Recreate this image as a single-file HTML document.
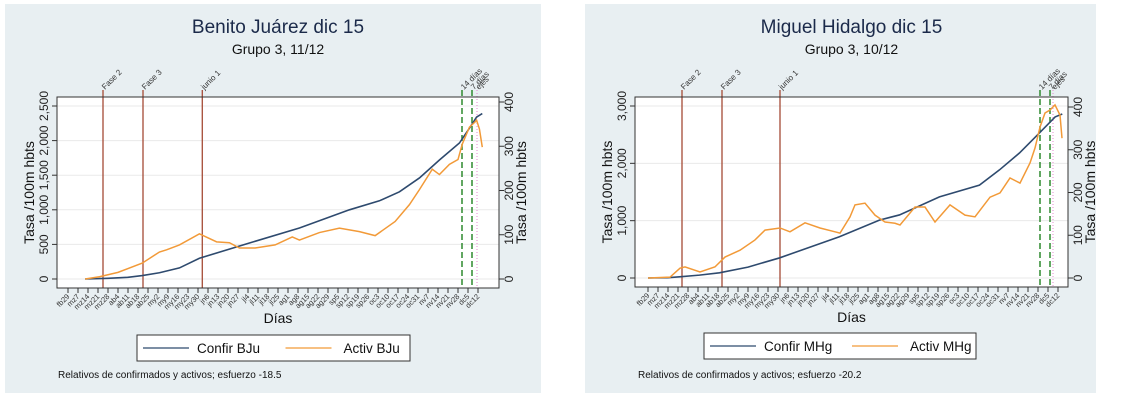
<!DOCTYPE html>
<html><head><meta charset="utf-8">
<style>
html,body{margin:0;padding:0;background:#fff;width:1126px;height:404px;overflow:hidden}
svg{display:block;font-family:"Liberation Sans",sans-serif}
</style></head>
<body>
<svg id="root" width="1126" height="404" viewBox="0 0 1126 404"></svg>
<script>
// ---- shared data ----
const weekLabels = ["fb29","mz7","mz14","mz21","mz28","ab4","ab11","ab18","ab25","my2","my9","my16","my23","my30","jn6","jn13","jn20","jn27","jl4","jl11","jl18","jl25","ag1","ag8","ag15","ag22","ag29","sp5","sp12","sp19","sp26","oc3","oc10","oc17","oc24","oc31","nv7","nv14","nv21","nv28","dc5","dc12"];
// ---- Benito Juárez ----
const bjConfDays = [12,28,42,52,64,78,92,127,162,197,218,232,246,260,274,281,286,290];
const bjConfVals = [0,10,25,50,90,160,300,520,737,1000,1130,1260,1460,1720,1965,2180,2340,2390];
const bjActDays = [12,22,35,52,64,69,78,92,104,113,120,131,145,157,162,176,190,204,215,229,239,246,255,260,267,273,276,281,285,286,288,290];
const bjActVals = [0,5,15,36,61,66,77,102,84,82,70,70,77,95,88,105,115,107,98,130,168,202,248,236,259,270,305,343,355,359,339,298];
const bjLeftTicks = [0,500,1000,1500,2000,2500];
const bjRightTicks = [0,100,200,300,400];
const bjEvents = [24.5,52.5,94];
const bjDashed = [275.8,282.8];
const bjDotted = [286.3];
// ---- Miguel Hidalgo ----
const mhConfDays = [0,14,22,36,50,70,92,134,162,176,204,232,246,260,274,285,290];
const mhConfVals = [0,5,20,50,90,190,350,720,1010,1100,1415,1620,1885,2180,2530,2810,2860];
const mhActDays = [0,15.4,22.4,25.9,36.4,46.9,53.9,64.4,74.9,81.9,92.4,99.4,109.9,120.4,130.9,134.4,141.4,144.9,151.9,158.9,165.9,172.9,176.4,186.9,193.9,200.9,211.4,221.9,228.9,239.4,246.4,253.4,260.4,267.4,270.9,274.4,277.9,281.4,284.9,288.4,289.8];
const mhActVals = [0,2,23,26,14,26,49,65,89,112,117,108,129,117,108,105,143,171,175,147,131,128,124,166,166,131,171,147,143,189,199,234,222,269,304,353,386,393,405,381,327];
const mhLeftTicks = [0,1000,2000,3000];
const mhRightTicks = [0,100,200,300,400];
const mhEvents = [23.8,51.8,92.4];
const mhDashed = [274.4,281.4];
const mhDotted = [283.5];

const NS="http://www.w3.org/2000/svg";
const root=document.getElementById('root');
function mk(tag,attrs,parent,text){const e=document.createElementNS(NS,tag);for(const k in attrs)e.setAttribute(k,attrs[k]);if(text!==undefined)e.textContent=text;(parent||root).appendChild(e);return e;}
function fmt(v){return v.toLocaleString('en-US');}

function panel(cfg){
  const g=mk('g',{});
  
  
  const bg=mk('rect',{x:cfg.px,y:4,width:cfg.pw,height:389,fill:'#e8eff2'},g);
  
  
  const L=cfg.L,R=cfg.R,T=97,B=cfg.B;
  const x0=cfg.x0,pxd=10/7;
  const xs=d=>x0+d*pxd;
  const yl=v=>cfg.y0-(v/cfg.lmax)*(cfg.y0-cfg.ylTop);
  const yr=v=>cfg.y0-(v/400)*(cfg.y0-cfg.yrTop);
  const cx=(L+R)/2;
  const t=mk('text',{x:cx,y:33,'text-anchor':'middle','font-size':19,fill:'#1b2a4a'},g,cfg.title);
  
  
  const st=mk('text',{x:cx,y:54,'text-anchor':'middle','font-size':14,fill:'#111'},g,cfg.sub);
  
  
  const pa=mk('rect',{x:L,y:T,width:R-L,height:B-T,fill:'#fff'},g);
  
  
  cfg.lt.forEach(v=>{
    const y=yl(v);
    const gl=mk('line',{x1:L,x2:R,y1:y,y2:y,stroke:'#eaeaea','stroke-width':1},g);
    
    
    mk('line',{x1:L-5,x2:L,y1:y,y2:y,stroke:'#333'},g);
    const tx=mk('text',{x:L-9,y:y,'text-anchor':'middle','font-size':12,fill:'#222',transform:`rotate(-90 ${L-9} ${y})`},g,fmt(v));
    
    
  });
  cfg.rt.forEach(v=>{
    const y=yr(v);
    mk('line',{x1:R,x2:R+5,y1:y,y2:y,stroke:'#333'},g);
    const tx=mk('text',{x:R+14,y:y,'text-anchor':'middle','font-size':12,fill:'#222',transform:`rotate(-90 ${R+14} ${y})`},g,fmt(v));
    
    
  });
  weekLabels.forEach((lab,i)=>{
    const x=xs(i*7);
    mk('line',{x1:x,x2:x,y1:B,y2:B+5,stroke:'#333'},g);
    const tx=mk('text',{x:x+2,y:B+9,'text-anchor':'end','font-size':7.5,fill:'#333',transform:`rotate(-45 ${x+2} ${B+9})`},g,lab);
    
    
  });
  const yt=mk('text',{x:L-23,y:(T+B)/2,'text-anchor':'middle','font-size':14,fill:'#111',transform:`rotate(-90 ${L-23} ${(T+B)/2})`},g,'Tasa /100m hbts');
  
  
  const yt2=mk('text',{x:R+27,y:(T+B)/2,'text-anchor':'middle','font-size':14,fill:'#111',transform:`rotate(-90 ${R+27} ${(T+B)/2})`},g,'Tasa /100m hbts');
  
  
  const xt=mk('text',{x:cx,y:cfg.B+35,'text-anchor':'middle','font-size':14,fill:'#111'},g,'Días');
  
  
  const evNames=['Fase 2','Fase 3','junio 1'];
  cfg.ev.forEach((d,i)=>{
    const x=xs(d);
    const l=mk('line',{x1:x,x2:x,y1:90,y2:B,stroke:'#a54a35','stroke-width':1.3},g);
    
    
    const tx=mk('text',{x:x+2,y:90,'font-size':8,fill:'#333',transform:`rotate(-45 ${x+2} 90)`},g,evNames[i]);
    
    
  });
  const dNames=['14 días','7 días'];
  cfg.dash.forEach((d,i)=>{
    const x=xs(d);
    const l=mk('line',{x1:x,x2:x,y1:90,y2:B,stroke:'#2f8a2f','stroke-width':1.5,'stroke-dasharray':'6 3'},g);
    
    
    const tx=mk('text',{x:x+2,y:90,'font-size':8,fill:'#333',transform:`rotate(-45 ${x+2} 90)`},g,dNames[i]);
    
    
  });
  cfg.dot.forEach(d=>{
    const x=xs(d);
    const l=mk('line',{x1:x,x2:x,y1:90,y2:B,stroke:'#e58ad0','stroke-width':1,'stroke-dasharray':'1 2'},g);
    
    
    const tx=mk('text',{x:x+2,y:90,'font-size':8,fill:'#333',transform:`rotate(-45 ${x+2} 90)`},g,'ejes');
    
    
  });
  const pc=mk('polyline',{points:cfg.cd.map((d,i)=>xs(d)+','+yl(cfg.cv[i])).join(' '),fill:'none',stroke:'#2e4a6e','stroke-width':1.6},g);
  
  
  const pa2=mk('polyline',{points:cfg.ad.map((d,i)=>xs(d)+','+yr(cfg.av[i])).join(' '),fill:'none',stroke:'#f29a38','stroke-width':1.5},g);
  
  
  const fr=mk('rect',{x:L,y:T,width:R-L,height:B-T,fill:'none',stroke:'#333','stroke-width':1},g);
  
  
  const lg=mk('g',{},g);
  
  
  mk('rect',{x:cfg.lx,y:cfg.ly,width:cfg.lw,height:26,fill:'#fff',stroke:'#333'},lg);
  const e1=mk('g',{},lg);
  
  
  mk('line',{x1:cfg.lx+6,x2:cfg.lx+52,y1:cfg.ly+13,y2:cfg.ly+13,stroke:'#2e4a6e','stroke-width':1.3},e1);
  mk('text',{x:cfg.lx+60,y:cfg.ly+18,'font-size':13.5,fill:'#111'},e1,cfg.l1);
  const e2=mk('g',{},lg);
  
  
  mk('line',{x1:cfg.lx+cfg.lw/2+12,x2:cfg.lx+cfg.lw/2+58,y1:cfg.ly+13,y2:cfg.ly+13,stroke:'#f29a38','stroke-width':1.3},e2);
  mk('text',{x:cfg.lx+cfg.lw/2+70,y:cfg.ly+18,'font-size':13.5,fill:'#111'},e2,cfg.l2);
  const fn=mk('text',{x:cfg.px+53,y:378,'font-size':10,fill:'#111'},g,cfg.note);
  
  
}

panel({id:'benito-juarez',px:5,pw:536,L:57,R:499,B:288,x0:68,y0:279,ylTop:106,lmax:2500,yrTop:102,
  title:'Benito Juárez dic 15',sub:'Grupo 3,  11/12',lt:bjLeftTicks,rt:bjRightTicks,
  cd:bjConfDays,cv:bjConfVals,ad:bjActDays,av:bjActVals,ev:bjEvents,dash:bjDashed,dot:bjDotted,
  lx:137,ly:335,lw:273,l1:'Confir BJu',l2:'Activ BJu',note:'Relativos de confirmados y activos; esfuerzo -18.5'});
panel({id:'miguel-hidalgo',px:585,pw:511,L:635,R:1068,B:287,x0:648,y0:278,ylTop:106,lmax:3000,yrTop:107,
  title:'Miguel Hidalgo dic 15',sub:'Grupo 3, 10/12',lt:mhLeftTicks,rt:mhRightTicks,
  cd:mhConfDays,cv:mhConfVals,ad:mhActDays,av:mhActVals,ev:mhEvents,dash:mhDashed,dot:mhDotted,
  lx:704,ly:333,lw:272,l1:'Confir MHg',l2:'Activ MHg',note:'Relativos de confirmados y activos; esfuerzo -20.2'});
</script>
</body></html>
